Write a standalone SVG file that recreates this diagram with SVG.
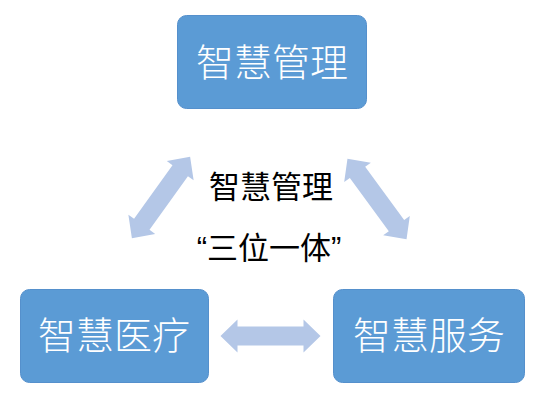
<svg xmlns="http://www.w3.org/2000/svg" xmlns:xlink="http://www.w3.org/1999/xlink" width="544" height="402" viewBox="0 0 544 402">
<style>
.box{fill:#5B9BD5;stroke:#5590CC;stroke-width:1}
.bt{font-family:"Noto Sans CJK SC","Noto Sans",sans-serif;font-size:38px;font-weight:300;fill:#FFFFFF;text-anchor:middle}
.ct{font-family:"Noto Sans CJK SC","Noto Sans",sans-serif;font-size:31px;fill:#000000;text-anchor:middle}
.q{font-family:"Liberation Sans",sans-serif}
.arr{fill:#B4C7E7}
</style>
<defs>
<path id="dbl" d="M-50,0 L-33,-16.5 L-33,-9.5 L33,-9.5 L33,-16.5 L50,0 L33,16.5 L33,9.5 L-33,9.5 L-33,16.5 Z"/>
</defs>
<rect width="544" height="402" fill="#FFFFFF"/>
<g id="connectors" class="arr">
<use xlink:href="#dbl" transform="translate(161,197.5) rotate(-54.4)"/>
<use xlink:href="#dbl" transform="translate(377,199) rotate(53.8)"/>
<use xlink:href="#dbl" transform="translate(270.5,336)"/>
</g>
<g id="node-top">
<rect class="box" x="177.5" y="15.5" width="189" height="93" rx="9"/>
<text class="bt" x="272" y="76">智慧管理</text>
</g>
<g id="node-left">
<rect class="box" x="20.5" y="289.5" width="188" height="93" rx="9"/>
<text class="bt" x="114" y="349">智慧医疗</text>
</g>
<g id="node-right">
<rect class="box" x="333.5" y="289.5" width="191" height="93" rx="9"/>
<text class="bt" x="429" y="349">智慧服务</text>
</g>
<g id="center-label">
<text class="ct" x="271" y="198">智慧管理</text>
<text class="ct" x="269" y="259"><tspan class="q">“</tspan>三位一体<tspan class="q">”</tspan></text>
</g>
</svg>
